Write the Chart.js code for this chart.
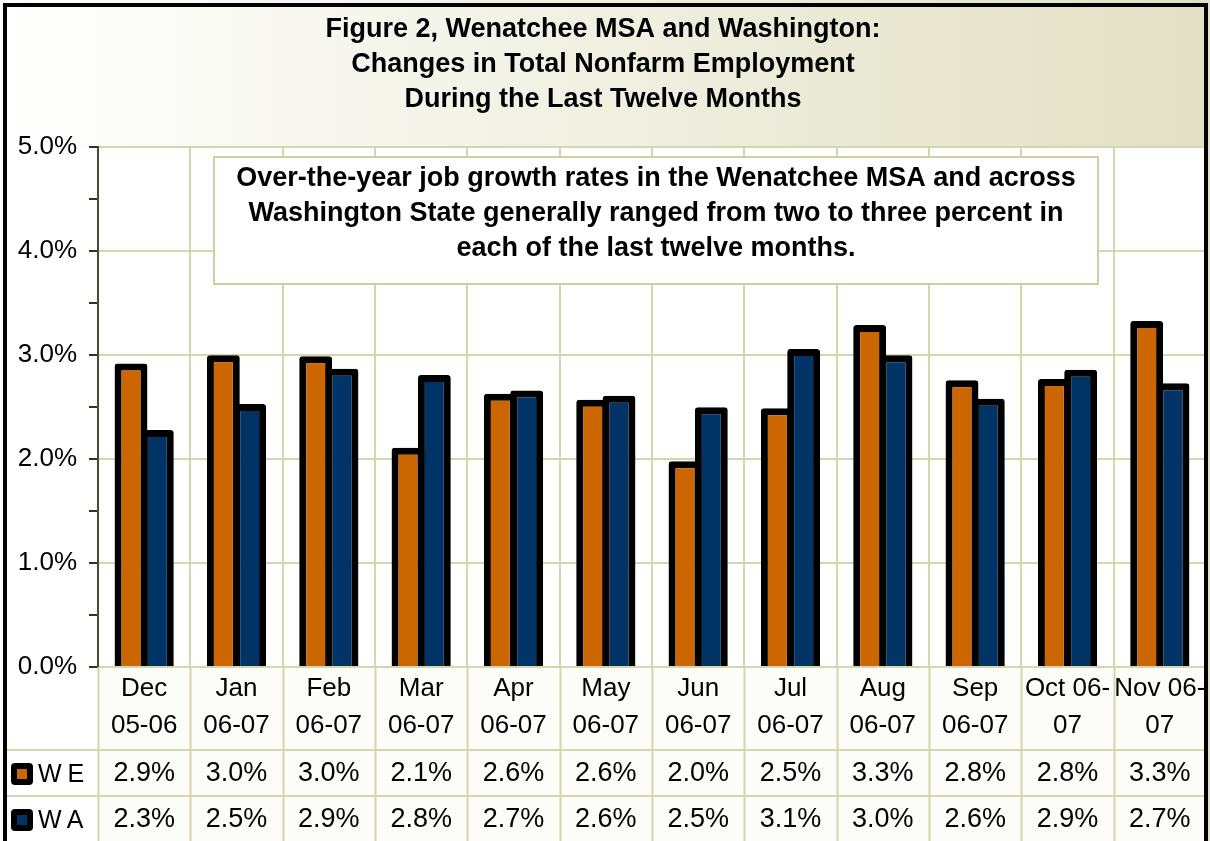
<!DOCTYPE html>
<html>
<head>
<meta charset="utf-8">
<script src="https://cdn.jsdelivr.net/npm/chart.js@4/dist/chart.umd.min.js"></script>
<style>
    html, body { margin: 0; padding: 0; background: #fff; }
    #wrap { width: 1210px; height: 841px; }
</style>
</head>
<body>
<div id="wrap"><canvas id="jobChart"></canvas></div>
<script>
// Chart data
const months = [
    ["Dec", "05-06"], ["Jan", "06-07"], ["Feb", "06-07"], ["Mar", "06-07"],
    ["Apr", "06-07"], ["May", "06-07"], ["Jun", "06-07"], ["Jul", "06-07"],
    ["Aug", "06-07"], ["Sep", "06-07"], ["Oct 06-", "07"], ["Nov 06-", "07"]
];
const seriesNames = ["WE", "WA"];
const weValues = [2.92, 3.00, 2.99, 2.11, 2.63, 2.57, 1.98, 2.49, 3.29, 2.76, 2.77, 3.33];
const waValues = [2.28, 2.53, 2.87, 2.81, 2.66, 2.61, 2.50, 3.06, 3.00, 2.58, 2.86, 2.73];
const yTicks = [0, 1, 2, 3, 4, 5];

const titleLines = [
    "Figure 2, Wenatchee MSA and Washington:",
    "Changes in Total Nonfarm Employment",
    "During the Last Twelve Months"
];
const noteLines = [
    "Over-the-year job growth rates in the Wenatchee MSA and across",
    "Washington State generally ranged from two to three percent in",
    "each of the last twelve months."
];

const FONT = "'Liberation Sans', Arial, sans-serif";
const ORANGE = "#CC6600";
const NAVY = "#003366";
const GRID = "#d6d6ad";

const fmt = v => v.toFixed(1) + "%";

// background, plot area and the data table under the axis
const chartDecor = {
    id: "chartDecor",
    beforeDraw(chart) {
        const { ctx, chartArea: a, width, height } = chart;
        ctx.save();
        const g = ctx.createLinearGradient(0, 0, width, 0);
        g.addColorStop(0, "#ffffff");
        g.addColorStop(1, "#e2e0c4");
        ctx.fillStyle = g;
        ctx.fillRect(0, 0, width, height);
        ctx.fillStyle = "#ffffff";
        ctx.fillRect(0, a.top, a.left, height - a.top);
        ctx.fillRect(a.left, a.top, a.right - a.left, a.bottom - a.top);
        ctx.fillStyle = "#fcfcf8";
        ctx.fillRect(a.left, a.bottom, a.right - a.left, height - a.bottom);
        ctx.restore();
    },
    afterDraw(chart) {
        const { ctx, chartArea: a, width, height } = chart;
        const x = chart.scales.x;
        const n = months.length;
        const step = (a.right - a.left) / n;
        const row1 = a.bottom + 83;
        const row2 = row1 + 46;

        ctx.save();
        // table grid
        ctx.strokeStyle = GRID;
        ctx.lineWidth = 2;
        ctx.beginPath();
        for (let i = 0; i <= n; i++) {
            const px = Math.round(a.left + i * step) + 0.5;
            ctx.moveTo(px, a.bottom);
            ctx.lineTo(px, height);
        }
        [row1, row2].forEach(r => {
            ctx.moveTo(6, r);
            ctx.lineTo(a.right, r);
        });
        ctx.stroke();

        // table values
        ctx.fillStyle = "#000";
        ctx.font = "27px " + FONT;
        ctx.textAlign = "center";
        ctx.textBaseline = "middle";
        const rows = [[weValues, row1], [waValues, row2]];
        rows.forEach(([vals, top]) => {
            vals.forEach((v, i) => {
                ctx.fillText(fmt(v), x.getPixelForValue(i), top + 24);
            });
        });

        // legend keys
        const colors = [ORANGE, NAVY];
        rows.forEach(([, top], k) => {
            ctx.fillStyle = "#000";
            ctx.beginPath();
            ctx.roundRect(11, top + 13, 22, 22, 4);
            ctx.fill();
            ctx.fillStyle = colors[k];
            ctx.fillRect(17, top + 19, 10, 10);
            ctx.fillStyle = "#000";
            ctx.textAlign = "left";
            ctx.font = "25px " + FONT;
            ctx.letterSpacing = "6px";
            ctx.fillText(seriesNames[k], 38, top + 25);
            ctx.letterSpacing = "0px";
        });

        // note box
        ctx.fillStyle = "#ffffff";
        ctx.strokeStyle = "#cfcfa3";
        ctx.lineWidth = 2;
        ctx.fillRect(214, 157, 884, 127);
        ctx.strokeRect(214, 157, 884, 127);
        ctx.fillStyle = "#000";
        ctx.font = "bold 27px " + FONT;
        ctx.textAlign = "center";
        noteLines.forEach((t, i) => ctx.fillText(t, 656, 179 + i * 35));

        // outer frame
        ctx.strokeStyle = "#000";
        ctx.lineWidth = 4;
        ctx.strokeRect(5, 5, width - 9, height + 10);
        ctx.restore();
    }
};

new Chart(document.getElementById("jobChart"), {
    type: "bar",
    data: {
        labels: months,
        datasets: [
            { label: seriesNames[0], data: weValues, backgroundColor: ORANGE },
            { label: seriesNames[1], data: waValues, backgroundColor: NAVY }
        ]
    },
    options: {
        responsive: true,
        maintainAspectRatio: false,
        animation: false,
        layout: { padding: { top: 0, right: 4, bottom: 91, left: 0 } },
        datasets: {
            bar: {
                borderColor: "#000",
                borderWidth: 7,
                borderRadius: 3,
                categoryPercentage: 0.57,
                barPercentage: 1.25
            }
        },
        plugins: {
            legend: { display: false },
            tooltip: { enabled: false },
            title: {
                display: true,
                text: titleLines,
                color: "#000",
                font: { family: FONT, size: 27, weight: "bold", lineHeight: 1.3 },
                padding: { top: 12, bottom: 30 }
            }
        },
        scales: {
            x: {
                grid: { color: GRID, lineWidth: 2, drawTicks: false },
                border: { color: GRID, width: 2 },
                ticks: {
                    color: "#000",
                    padding: 3,
                    maxRotation: 0,
                    autoSkip: false,
                    font: { family: FONT, size: 26, lineHeight: 1.42 }
                },
                afterFit: s => { s.height = 83; }
            },
            y: {
                min: 0,
                max: 5,
                grid: {
                    color: c => Number.isInteger(c.tick.value) ? GRID : "transparent",
                    lineWidth: 2,
                    tickColor: "#333322",
                    tickLength: 9
                },
                border: { color: "#4a4a30", width: 2 },
                ticks: {
                    stepSize: 0.5,
                    color: "#000",
                    padding: 12,
                    font: { family: FONT, size: 26 },
                    callback: v => yTicks.includes(v) ? fmt(v) : ""
                },
                afterFit: s => { s.width = 98; }
            }
        }
    },
    plugins: [chartDecor]
});
</script>
</body>
</html>
